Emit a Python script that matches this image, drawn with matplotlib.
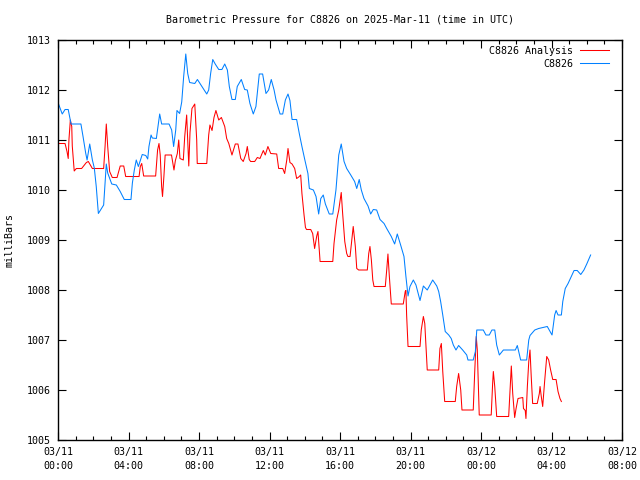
import numpy as np
import matplotlib
matplotlib.use("Agg")
import matplotlib.pyplot as plt
from matplotlib.ticker import MultipleLocator

# hours since 2025-03-11 00:00 UTC, pressure in mb
obs_hours = [0.02, 0.24, 0.40, 0.58, 0.70, 0.74, 1.30, 1.42, 1.57, 1.65, 1.80, 1.95, 2.06, 2.17,
             2.29, 2.59, 2.67, 2.74, 2.82, 3.05, 3.31, 3.53, 3.76, 4.14, 4.22, 4.33, 4.44, 4.56,
             4.78, 4.98, 5.09, 5.16, 5.28, 5.35, 5.58, 5.69, 5.77, 5.88, 6.30, 6.45, 6.56, 6.68,
             6.75, 6.90, 7.02, 7.13, 7.25, 7.36, 7.47, 7.76, 7.91, 8.44, 8.55, 8.66, 8.78, 8.92,
             9.12, 9.30, 9.46, 9.61, 9.72, 9.87, 10.06, 10.17, 10.40, 10.59, 10.74, 10.89, 11.08,
             11.23, 11.42, 11.61, 11.80, 11.95, 12.10, 12.26, 12.37, 12.60, 12.75, 12.90, 13.05,
             13.16, 13.28, 13.54, 13.69, 13.84, 14.00, 14.18, 14.26, 14.49, 14.64, 14.79, 14.91,
             15.05, 15.17, 15.39, 15.59, 15.77, 15.93, 16.07, 16.23, 16.38, 16.61, 16.83, 16.95,
             17.09, 17.21, 17.36, 17.59, 17.74, 17.89, 18.08, 18.27, 18.50, 18.65, 18.91, 19.10,
             19.25, 19.44, 19.63, 19.74, 19.86, 19.97, 20.16, 20.31, 20.54, 20.73, 20.95, 21.26,
             21.49, 21.60, 21.71, 21.83, 21.97, 22.17, 22.31, 22.43, 22.58, 22.73, 22.96, 23.19,
             23.26, 23.56, 23.68, 23.76, 24.13, 24.28, 24.47, 24.62, 24.78, 24.89, 25.04, 25.27,
             25.95, 26.06, 26.25, 26.59, 26.71, 26.78, 27.05, 27.27, 27.76, 28.03, 28.18, 28.26,
             28.37, 28.56, 28.64, 28.78, 28.94, 29.12, 29.28, 29.46, 29.66, 29.84, 30.00, 30.22]
obs_mb = [1011.73, 1011.52, 1011.61, 1011.61, 1011.40, 1011.32, 1011.32, 1011.07, 1010.74,
          1010.60, 1010.92, 1010.60, 1010.44, 1010.07, 1009.53, 1009.70, 1010.14, 1010.52,
          1010.34, 1010.12, 1010.10, 1009.97, 1009.81, 1009.81, 1010.14, 1010.40, 1010.60,
          1010.47, 1010.71, 1010.69, 1010.62, 1010.87, 1011.10, 1011.04, 1011.03, 1011.31,
          1011.52, 1011.32, 1011.32, 1011.20, 1010.87, 1011.20, 1011.59, 1011.53, 1011.76,
          1012.27, 1012.72, 1012.33, 1012.15, 1012.13, 1012.21, 1011.92, 1012.00, 1012.33,
          1012.61, 1012.52, 1012.41, 1012.41, 1012.52, 1012.40, 1012.07, 1011.81, 1011.81,
          1012.07, 1012.21, 1012.01, 1012.00, 1011.73, 1011.52, 1011.67, 1012.32, 1012.32,
          1011.93, 1012.00, 1012.21, 1012.00, 1011.80, 1011.52, 1011.52, 1011.80, 1011.92,
          1011.79, 1011.41, 1011.41, 1011.13, 1010.87, 1010.61, 1010.33, 1010.03, 1010.00,
          1009.87, 1009.52, 1009.83, 1009.90, 1009.72, 1009.52, 1009.52, 1010.00, 1010.70,
          1010.92, 1010.57, 1010.43, 1010.30, 1010.17, 1010.03, 1010.21, 1010.00, 1009.83,
          1009.68, 1009.52, 1009.61, 1009.60, 1009.41, 1009.33, 1009.23, 1009.07, 1008.92,
          1009.12, 1008.90, 1008.67, 1008.27, 1007.88, 1008.07, 1008.20, 1008.10, 1007.79,
          1008.08, 1008.00, 1008.20, 1008.08, 1007.97, 1007.77, 1007.50, 1007.17, 1007.10,
          1007.03, 1006.90, 1006.80, 1006.89, 1006.80, 1006.70, 1006.60, 1006.60, 1006.77,
          1007.20, 1007.20, 1007.10, 1007.10, 1007.20, 1007.20, 1006.90, 1006.70, 1006.80,
          1006.80, 1006.89, 1006.60, 1006.60, 1007.00, 1007.09, 1007.20, 1007.23, 1007.27,
          1007.10, 1007.50, 1007.59, 1007.50, 1007.50, 1007.77, 1008.03, 1008.13, 1008.27,
          1008.39, 1008.39, 1008.31, 1008.40, 1008.52, 1008.70]

ana_hours = [0.02, 0.40, 0.51, 0.58, 0.62, 0.70, 0.78, 0.81, 0.92, 1.04, 1.34, 1.61, 1.72, 1.95,
             2.59, 2.67, 2.74, 2.82, 2.93, 3.08, 3.35, 3.53, 3.73, 3.84, 4.60, 4.67, 4.75, 4.86,
             5.54, 5.65, 5.73, 5.80, 5.88, 5.93, 6.01, 6.08, 6.44, 6.58, 6.66, 6.77, 6.85, 6.92,
             7.11, 7.19, 7.30, 7.42, 7.49, 7.60, 7.76, 7.87, 7.90, 8.44, 8.55, 8.62, 8.74, 8.85,
             8.96, 9.12, 9.27, 9.46, 9.57, 9.69, 9.87, 10.06, 10.21, 10.37, 10.51, 10.67, 10.74,
             10.85, 10.93, 11.16, 11.31, 11.46, 11.65, 11.76, 11.91, 12.07, 12.41, 12.52, 12.75,
             12.86, 12.98, 13.05, 13.16, 13.28, 13.43, 13.54, 13.66, 13.77, 13.84, 13.96, 14.04,
             14.10, 14.34, 14.45, 14.56, 14.68, 14.75, 14.87, 15.59, 15.66, 15.81, 15.93, 16.07,
             16.15, 16.27, 16.38, 16.45, 16.57, 16.68, 16.75, 16.87, 16.95, 17.06, 17.55, 17.63,
             17.70, 17.78, 17.86, 17.93, 18.57, 18.65, 18.72, 18.80, 18.91, 19.59, 19.70, 19.74,
             19.78, 19.86, 20.54, 20.61, 20.73, 20.81, 20.92, 20.95, 21.60, 21.67, 21.75, 21.83,
             21.94, 22.54, 22.62, 22.73, 22.85, 22.92, 23.56, 23.64, 23.73, 23.79, 23.90, 24.58,
             24.66, 24.70, 24.78, 24.89, 25.57, 25.65, 25.72, 25.80, 25.91, 25.99, 26.10, 26.37,
             26.41, 26.51, 26.55, 26.63, 26.71, 26.78, 26.85, 26.93, 27.19, 27.31, 27.35, 27.42,
             27.50, 27.61, 27.73, 27.84, 27.95, 28.07, 28.26, 28.37, 28.48, 28.56]
ana_mb = [1010.93, 1010.93, 1010.77, 1010.63, 1011.00, 1011.40, 1011.27, 1010.88, 1010.38,
          1010.43, 1010.43, 1010.55, 1010.57, 1010.43, 1010.43, 1010.87, 1011.32, 1010.87,
          1010.37, 1010.25, 1010.25, 1010.48, 1010.48, 1010.27, 1010.27, 1010.47, 1010.53,
          1010.28, 1010.28, 1010.80, 1010.93, 1010.70, 1010.07, 1009.87, 1010.28, 1010.70,
          1010.70, 1010.40, 1010.59, 1010.73, 1011.00, 1010.63, 1010.60, 1011.07, 1011.50,
          1010.48, 1011.15, 1011.63, 1011.72, 1011.00, 1010.53, 1010.53, 1011.10, 1011.30,
          1011.19, 1011.45, 1011.59, 1011.40, 1011.45, 1011.27, 1011.03, 1010.93, 1010.70,
          1010.92, 1010.92, 1010.63, 1010.57, 1010.73, 1010.87, 1010.61, 1010.57, 1010.57,
          1010.65, 1010.63, 1010.79, 1010.70, 1010.87, 1010.73, 1010.72, 1010.43, 1010.43,
          1010.33, 1010.60, 1010.83, 1010.55, 1010.52, 1010.43, 1010.23, 1010.26, 1010.30,
          1009.93, 1009.50, 1009.25, 1009.21, 1009.21, 1009.13, 1008.83, 1009.08, 1009.17,
          1008.57, 1008.57, 1008.93, 1009.40, 1009.60, 1009.95, 1009.53, 1008.97, 1008.73,
          1008.67, 1008.67, 1009.03, 1009.27, 1008.87, 1008.43, 1008.40, 1008.40, 1008.73,
          1008.87, 1008.60, 1008.20, 1008.07, 1008.07, 1008.40, 1008.72, 1008.27, 1007.72,
          1007.72, 1007.97, 1007.99, 1007.50, 1006.87, 1006.87, 1007.20, 1007.47, 1007.33,
          1006.60, 1006.40, 1006.40, 1006.83, 1006.93, 1006.37, 1005.77, 1005.77, 1006.07,
          1006.33, 1006.00, 1005.60, 1005.60, 1006.33, 1007.07, 1006.80, 1005.50, 1005.50,
          1006.13, 1006.37, 1006.07, 1005.47, 1005.47, 1006.00, 1006.48, 1005.93, 1005.45,
          1005.63, 1005.83, 1005.85, 1005.63, 1005.59, 1005.43, 1006.07, 1006.57, 1006.80,
          1006.27, 1005.73, 1005.73, 1005.93, 1006.07, 1005.87, 1005.67, 1006.17, 1006.67,
          1006.60, 1006.40, 1006.21, 1006.21, 1005.97, 1005.83, 1005.77]

tick_hours = [0, 4, 8, 12, 16, 20, 24, 28, 32]
tick_labels = ["03/11\n00:00", "03/11\n04:00", "03/11\n08:00", "03/11\n12:00", "03/11\n16:00",
               "03/11\n20:00", "03/12\n00:00", "03/12\n04:00", "03/12\n08:00"]

plt.rcParams['font.family'] = 'DejaVu Sans Mono'
plt.rcParams['font.size'] = 7.2

fig = plt.figure(figsize=(6.4, 4.8), dpi=100)
ax = fig.add_axes([58 / 640, 40 / 480, 564 / 640, 400 / 480])

ax.plot(ana_hours, ana_mb, color='#ff0000', linewidth=0.75, label='C8826 Analysis')
ax.plot(obs_hours, obs_mb, color='#0080ff', linewidth=0.75, label='C8826')

ax.set_xlim(0, 32)
ax.set_ylim(1005, 1013)
ax.set_xticks(tick_hours)
ax.set_xticklabels(tick_labels, linespacing=1.5)
ax.xaxis.set_minor_locator(MultipleLocator(1))
ax.yaxis.set_major_locator(MultipleLocator(1))
ax.yaxis.set_major_formatter(plt.FormatStrFormatter('%d'))
ax.tick_params(which='both', direction='in', top=True, right=True, width=0.8, color='black')
ax.tick_params(which='major', length=6, pad=5)
ax.tick_params(which='minor', length=3)
ax.tick_params(axis='x', which='major', pad=5)
for s in ax.spines.values():
    s.set_linewidth(1.0)

ax.legend(loc='upper right', bbox_to_anchor=(0.984, 0.995), frameon=False, markerfirst=False,
          handlelength=2.9, handletextpad=0.7, labelspacing=0.3, borderaxespad=0)

fig.text(340 / 640, 1 - 20 / 480, 'Barometric Pressure for C8826 on 2025-Mar-11 (time in UTC)',
         ha='center', va='center')
fig.text(10 / 640, 1 - 240 / 480, 'milliBars', rotation=90, ha='center', va='center')

fig.savefig('out.png', dpi=100)
